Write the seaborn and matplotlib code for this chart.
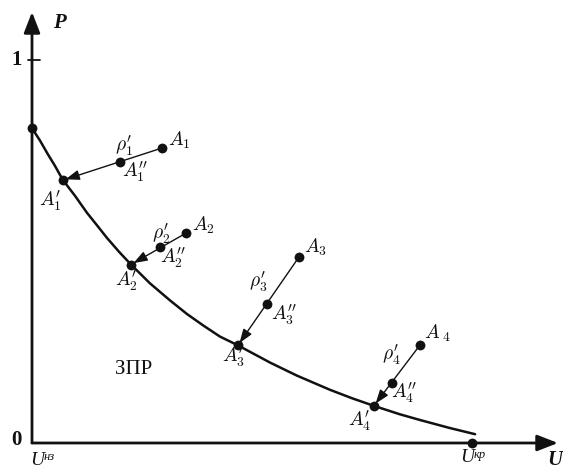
import matplotlib
matplotlib.use('Agg')
import numpy as np
import pandas as pd
import matplotlib.pyplot as plt
import seaborn as sns

# boundary curve P(U) (U^kp = 1)
curve_u = [0.0, 0.018, 0.036, 0.052, 0.070, 0.098, 0.125, 0.148, 0.170, 0.198, 0.225, 0.268, 0.314,
           0.352, 0.389, 0.427, 0.468, 0.541, 0.602, 0.677, 0.727, 0.777, 0.836, 0.882, 0.950, 1.007]
curve_p = [0.822, 0.790, 0.754, 0.724, 0.687, 0.645, 0.601, 0.568, 0.536, 0.499, 0.466, 0.417, 0.372,
           0.337, 0.307, 0.278, 0.255, 0.210, 0.176, 0.139, 0.117, 0.097, 0.075, 0.060, 0.039, 0.023]

# points A_i, A_i'' and A_i'
a_u = [0.295, 0.350, 0.607, 0.882]
a_p = [0.770, 0.548, 0.486, 0.256]
a2_u = [0.200, 0.291, 0.534, 0.818]
a2_p = [0.734, 0.512, 0.363, 0.157]
a1_u = [0.070, 0.225, 0.468, 0.777]
a1_p = [0.686, 0.466, 0.255, 0.097]

u_kp = 1.0

sns.set_style('white')
plt.rcParams['font.family'] = ['Liberation Serif', 'DejaVu Serif']
plt.rcParams['mathtext.fontset'] = 'cm'

fig = plt.figure(figsize=(5.63, 4.66), dpi=100)
ax = fig.add_axes([0, 0, 1, 1])
ax.set_axis_off()

# pixel -> data (layout helper only)
def px(x, y):
    return (x - 32) / 440, (443 - y) / 383

x0, y0 = px(0, 466)
x1, y1 = px(563, 0)
ax.set_xlim(x0, x1)
ax.set_ylim(y0, y1)

col = '#111111'

# axes with arrows
arr = dict(arrowstyle='-|>,head_length=0.9,head_width=0.35', lw=2.0, color=col,
           shrinkA=0, shrinkB=0, mutation_scale=14)
ax.annotate('', xy=px(32, 12), xytext=(0, 0), arrowprops=arr)
ax.annotate('', xy=px(558, 443), xytext=(0, 0), arrowprops=arr)
ax.plot([px(28, 60)[0], px(40, 60)[0]], [1, 1], color=col, lw=1.3)

# curve
df_curve = pd.DataFrame({'U': curve_u, 'P': curve_p})
sns.lineplot(data=df_curve, x='U', y='P', sort=False, estimator=None, color=col, lw=1.8, ax=ax)

# arrows A_i -> A_i'
for i in range(4):
    ax.annotate('', xy=(a1_u[i], a1_p[i]), xytext=(a_u[i], a_p[i]),
                arrowprops=dict(arrowstyle='-|>,head_length=0.7,head_width=0.25', lw=1.0,
                                color=col, shrinkA=0, shrinkB=2, mutation_scale=12))

pts = pd.DataFrame({
    'U': a_u + a2_u + a1_u + [0.0, u_kp],
    'P': a_p + a2_p + a1_p + [curve_p[0], 0.0],
})
sns.scatterplot(data=pts, x='U', y='P', s=50, color=col, edgecolor=col, linewidth=0, ax=ax, zorder=5)

fs = 14
labels = [
    (r"$\rho_1'$", (124, 146)), (r"$A_1$", (179, 140)), (r"$A_1''$", (135, 172)), (r"$A_1'$", (50, 201)),
    (r"$\rho_2'$", (161, 234)), (r"$A_2$", (203, 225)), (r"$A_2''$", (173, 258)), (r"$A_2'$", (126, 281)),
    (r"$\rho_3'$", (258, 282)), (r"$A_3$", (315, 247)), (r"$A_3''$", (284, 315)), (r"$A_3'$", (233, 357)),
    (r"$\rho_4'$", (391, 355)), (r"$A_{\ 4}$", (438, 333)), (r"$A_4''$", (404, 393)), (r"$A_4'$", (360, 421)),
]
for txt, (lx, ly) in labels:
    ax.text(*px(lx, ly), txt, fontsize=fs, ha='center', va='center', color=col)

ax.text(*px(134, 369), 'ЗПР', fontsize=15, ha='center', va='center', color=col)
ax.text(*px(16, 440), '0', fontsize=15, fontweight='bold', ha='center', va='center', color=col)
ax.text(*px(17, 60), '1', fontsize=15, fontweight='bold', ha='center', va='center', color=col)
ax.text(*px(59, 23), 'P', fontsize=15, fontweight='bold', fontstyle='italic', ha='center', va='center', color=col)
ax.text(*px(547, 450), 'U', fontsize=15, fontweight='bold', fontstyle='italic', ha='left', va='top', color=col)
ax.text(*px(30, 452), 'U', fontsize=14, fontstyle='italic', ha='left', va='top', color=col)
ax.text(*px(44, 451), 'нз', fontsize=9, fontstyle='italic', ha='left', va='top', color=col)
ax.text(*px(460, 449), 'U', fontsize=14, fontstyle='italic', ha='left', va='top', color=col)
ax.text(*px(474, 449), 'кр', fontsize=9, fontstyle='italic', ha='left', va='top', color=col)

fig.savefig('out.png', dpi=100)
